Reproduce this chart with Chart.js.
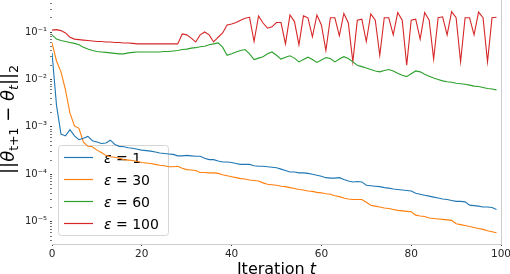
<!DOCTYPE html>
<html>
<head>
<meta charset="utf-8">
<script src="https://cdn.jsdelivr.net/npm/chart.js@4/dist/chart.umd.min.js"></script>
<style>
  html, body { margin: 0; padding: 0; background: #fff; }
  #wrap { width: 510px; height: 274px; }
</style>
</head>
<body>
<div id="wrap"><canvas id="c" width="510" height="274"></canvas></div>
<script>
// iteration index t = 0..99
const iterations = [...Array(100).keys()];

// log10 of ||θ_{t+1} - θ_t||_2
const logEps1 = [
  -1.44,-2.54,-3.15,-3.19,-3.06,-3.19,-3.27,-3.24,-3.20,-3.29,
  -3.32,-3.35,-3.34,-3.28,-3.37,-3.41,-3.42,-3.44,-3.45,-3.47,
  -3.49,-3.50,-3.51,-3.53,-3.55,-3.56,-3.57,-3.58,-3.61,-3.61,
  -3.60,-3.61,-3.62,-3.62,-3.66,-3.69,-3.69,-3.72,-3.74,-3.74,
  -3.75,-3.77,-3.79,-3.79,-3.79,-3.82,-3.83,-3.83,-3.84,-3.85,
  -3.86,-3.89,-3.92,-3.95,-3.95,-3.97,-3.97,-3.98,-4.00,-4.02,
  -4.04,-4.07,-4.08,-4.08,-4.07,-4.11,-4.14,-4.16,-4.15,-4.16,
  -4.23,-4.24,-4.25,-4.26,-4.28,-4.29,-4.31,-4.32,-4.33,-4.34,
  -4.35,-4.40,-4.42,-4.44,-4.46,-4.48,-4.50,-4.52,-4.53,-4.55,
  -4.57,-4.57,-4.58,-4.65,-4.66,-4.67,-4.69,-4.69,-4.70,-4.74
];
const logEps30 = [
  -1.23,-1.61,-1.84,-2.22,-2.71,-2.98,-3.03,-3.32,-3.41,-3.42,
  -3.49,-3.54,-3.60,-3.63,-3.64,-3.66,-3.69,-3.70,-3.71,-3.73,
  -3.75,-3.76,-3.77,-3.79,-3.81,-3.82,-3.84,-3.84,-3.83,-3.87,
  -3.90,-3.91,-3.92,-3.96,-3.96,-3.97,-3.97,-3.98,-4.01,-4.03,
  -4.05,-4.07,-4.09,-4.10,-4.12,-4.13,-4.14,-4.18,-4.21,-4.22,
  -4.23,-4.25,-4.26,-4.28,-4.30,-4.32,-4.33,-4.35,-4.36,-4.38,
  -4.39,-4.41,-4.42,-4.45,-4.47,-4.50,-4.52,-4.53,-4.53,-4.53,
  -4.59,-4.65,-4.67,-4.69,-4.71,-4.72,-4.74,-4.76,-4.77,-4.78,
  -4.79,-4.86,-4.88,-4.89,-4.92,-4.93,-4.94,-4.95,-4.96,-4.97,
  -5.04,-5.06,-5.08,-5.10,-5.12,-5.14,-5.16,-5.19,-5.21,-5.23
];
const logEps60 = [
  -1.06,-1.15,-1.18,-1.20,-1.22,-1.24,-1.27,-1.32,-1.36,-1.39,
  -1.41,-1.42,-1.43,-1.44,-1.45,-1.46,-1.46,-1.44,-1.43,-1.42,
  -1.42,-1.42,-1.42,-1.42,-1.42,-1.41,-1.41,-1.40,-1.39,-1.37,
  -1.36,-1.34,-1.33,-1.31,-1.30,-1.27,-1.25,-1.23,-1.32,-1.49,
  -1.46,-1.42,-1.39,-1.37,-1.46,-1.58,-1.55,-1.52,-1.46,-1.42,
  -1.49,-1.57,-1.53,-1.50,-1.55,-1.63,-1.58,-1.53,-1.58,-1.64,
  -1.59,-1.54,-1.56,-1.63,-1.57,-1.52,-1.56,-1.63,-1.70,-1.73,
  -1.76,-1.79,-1.82,-1.84,-1.81,-1.79,-1.82,-1.87,-1.91,-1.94,
  -1.88,-1.82,-1.84,-1.89,-1.93,-1.97,-2.00,-2.03,-2.05,-2.06,
  -2.08,-2.09,-2.10,-2.12,-2.14,-2.15,-2.17,-2.19,-2.20,-2.22
];
const logEps100 = [
  -0.96,-0.95,-0.97,-1.02,-1.11,-1.15,-1.16,-1.17,-1.18,-1.19,
  -1.20,-1.20,-1.21,-1.21,-1.22,-1.22,-1.23,-1.23,-1.24,-1.25,
  -1.25,-1.25,-1.25,-1.25,-1.25,-1.25,-1.25,-1.25,-1.25,-1.04,
  -1.06,-1.13,-1.21,-1.06,-1.00,-1.06,-1.21,-1.11,-1.02,-0.85,
  -0.83,-0.80,-0.75,-0.71,-0.69,-1.20,-0.66,-0.81,-0.92,-0.89,
  -0.80,-0.80,-1.25,-0.64,-0.78,-1.27,-0.66,-0.70,-1.10,-0.64,
  -0.85,-1.39,-0.70,-0.70,-1.08,-0.61,-0.81,-1.63,-0.75,-0.73,
  -1.20,-0.62,-0.75,-1.49,-0.70,-0.70,-1.06,-0.59,-0.75,-1.70,
  -0.75,-0.73,-1.15,-0.59,-0.75,-1.57,-0.70,-0.68,-1.06,-0.57,
  -0.70,-1.63,-0.70,-0.70,-1.06,-0.58,-0.70,-1.63,-0.70,-0.69
];

const seriesLabels = ['ε = 1', 'ε = 30', 'ε = 60', 'ε = 100'];
const seriesColors = ['#1f77b4', '#ff7f0e', '#2ca02c', '#d62728'];
const seriesLogs = [logEps1, logEps30, logEps60, logEps100];

const xTicks = [0, 20, 40, 60, 80, 100];
const yMin = 3.4e-6, yMax = 0.473;

const FONT = '"DejaVu Sans", sans-serif';

const supMap = { '-': '⁻', '0': '⁰', '1': '¹', '2': '²', '3': '³', '4': '⁴', '5': '⁵', '6': '⁶', '7': '⁷', '8': '⁸', '9': '⁹' };
const powLabel = (e) => '10' + String(e).split('').map(c => supMap[c]).join('');

// majors at 10^k, minors at 2..9 × 10^k inside the range
const buildYTicks = () => {
    const ticks = [];
    for (let e = -6; e <= 0; e++) {
        for (let m = 1; m <= 9; m++) {
            const v = m * Math.pow(10, e);
            if (v >= yMin && v <= yMax) ticks.push({ value: v, major: m === 1 });
        }
    }
    return ticks;
};

const zeroPadding = (scale) => {
    scale.paddingTop = 0; scale.paddingBottom = 0;
    scale.paddingLeft = 0; scale.paddingRight = 0;
};

// legend box, right spine and axis titles
const decorations = {
    id: 'decorations',
    beforeDatasetsDraw(chart) {
        const ctx = chart.ctx;
        ctx.save();
        ctx.beginPath();
        ctx.roundRect(58.5, 145.5, 110, 90, 3);
        ctx.fillStyle = 'rgba(255,255,255,0.8)';
        ctx.fill();
        ctx.strokeStyle = '#d6d6d6';
        ctx.lineWidth = 1;
        ctx.stroke();

        const rows = [157, 179, 201, 223];
        chart.data.datasets.forEach((ds, i) => {
            const y = rows[i] + 0.5;
            ctx.beginPath();
            ctx.moveTo(64, y);
            ctx.lineTo(93, y);
            ctx.strokeStyle = ds.borderColor;
            ctx.lineWidth = 1.2;
            ctx.stroke();

            ctx.fillStyle = '#000';
            ctx.textBaseline = 'alphabetic';
            ctx.font = 'italic 14px ' + FONT;
            const eps = ds.label.charAt(0);
            ctx.fillText(eps, 104, y + 5);
            const w = ctx.measureText(eps).width;
            ctx.font = '14px ' + FONT;
            ctx.fillText(ds.label.slice(1), 104 + w, y + 5);
        });
        ctx.restore();
    },
    afterDraw(chart) {
        const ctx = chart.ctx;
        const area = chart.chartArea;
        ctx.save();

        // right spine
        ctx.beginPath();
        ctx.moveTo(Math.round(area.right) + 0.5, area.top);
        ctx.lineTo(Math.round(area.right) + 0.5, area.bottom);
        ctx.strokeStyle = '#cccccc';
        ctx.lineWidth = 1;
        ctx.stroke();

        // x title: "Iteration t"
        ctx.fillStyle = '#000';
        ctx.textBaseline = 'alphabetic';
        ctx.font = '16px ' + FONT;
        const a = 'Iteration ';
        const wa = ctx.measureText(a).width;
        ctx.font = 'italic 16px ' + FONT;
        const wt = ctx.measureText('t').width;
        const cx = (area.left + area.right) / 2;
        const x0 = cx - (wa + wt) / 2;
        ctx.font = '16px ' + FONT;
        ctx.fillText(a, x0, 273.5);
        ctx.font = 'italic 16px ' + FONT;
        ctx.fillText('t', x0 + wa, 273.5);

        // y title: ||θ_{t+1} − θ_t||_2
        const parts = [
            { t: '||', s: 18, it: false, dy: 0 },
            { t: 'θ', s: 18, it: true, dy: 0 },
            { t: 't+1', s: 12.5, it: false, dy: 4 },
            { t: ' − ', s: 18, it: false, dy: 0 },
            { t: 'θ', s: 18, it: true, dy: 0 },
            { t: 't', s: 12.5, it: true, dy: 4 },
            { t: '||', s: 18, it: false, dy: 0 },
            { t: '2', s: 12.5, it: false, dy: 4 }
        ];
        let total = 0;
        parts.forEach(p => {
            ctx.font = (p.it ? 'italic ' : '') + p.s + 'px ' + FONT;
            p.w = ctx.measureText(p.t).width;
            total += p.w;
        });
        ctx.translate(14, 119.5);
        ctx.rotate(-Math.PI / 2);
        let px = -total / 2;
        parts.forEach(p => {
            ctx.font = (p.it ? 'italic ' : '') + p.s + 'px ' + FONT;
            ctx.fillText(p.t, px, p.dy);
            px += p.w;
        });
        ctx.restore();
    }
};

const ctx = document.getElementById('c').getContext('2d');
new Chart(ctx, {
    type: 'line',
    data: {
        labels: iterations,
        datasets: seriesLogs.map((logs, i) => ({
            label: seriesLabels[i],
            data: logs.map(v => Math.pow(10, v)),
            borderColor: seriesColors[i],
            backgroundColor: seriesColors[i],
            borderWidth: 1.1,
            pointRadius: 0,
            tension: 0,
            fill: false
        }))
    },
    options: {
        responsive: false,
        animation: false,
        devicePixelRatio: 1,
        layout: { padding: { left: 0, right: 9, top: 0, bottom: 0 } },
        plugins: {
            legend: { display: false },
            tooltip: { enabled: false }
        },
        scales: {
            x: {
                type: 'linear',
                min: 0,
                max: 100,
                afterBuildTicks: (scale) => { scale.ticks = xTicks.map(v => ({ value: v })); },
                afterFit: (scale) => { scale.height = 30; zeroPadding(scale); },
                ticks: {
                    color: '#262626',
                    font: { family: FONT, size: 10.5 },
                    padding: 2,
                    maxRotation: 0
                },
                grid: { drawOnChartArea: false, tickLength: 2, tickColor: '#444', tickWidth: 1 },
                border: { display: true, color: '#cccccc', width: 1 }
            },
            y: {
                type: 'logarithmic',
                min: yMin,
                max: yMax,
                afterBuildTicks: (scale) => { scale.ticks = buildYTicks(); },
                afterFit: (scale) => { scale.width = 52; zeroPadding(scale); },
                ticks: {
                    autoSkip: false,
                    color: '#262626',
                    font: { family: FONT, size: 10 },
                    padding: 3,
                    callback: (value) => {
                        const e = Math.round(Math.log10(value));
                        return Math.abs(Math.log10(value) - e) < 1e-6 ? powLabel(e) : '';
                    }
                },
                grid: {
                    drawOnChartArea: false,
                    tickLength: 2,
                    tickColor: (c) => (c.tick && c.tick.major) ? '#444' : '#777',
                    tickWidth: 1
                },
                border: { display: false }
            }
        }
    },
    plugins: [decorations]
});
</script>
</body>
</html>
